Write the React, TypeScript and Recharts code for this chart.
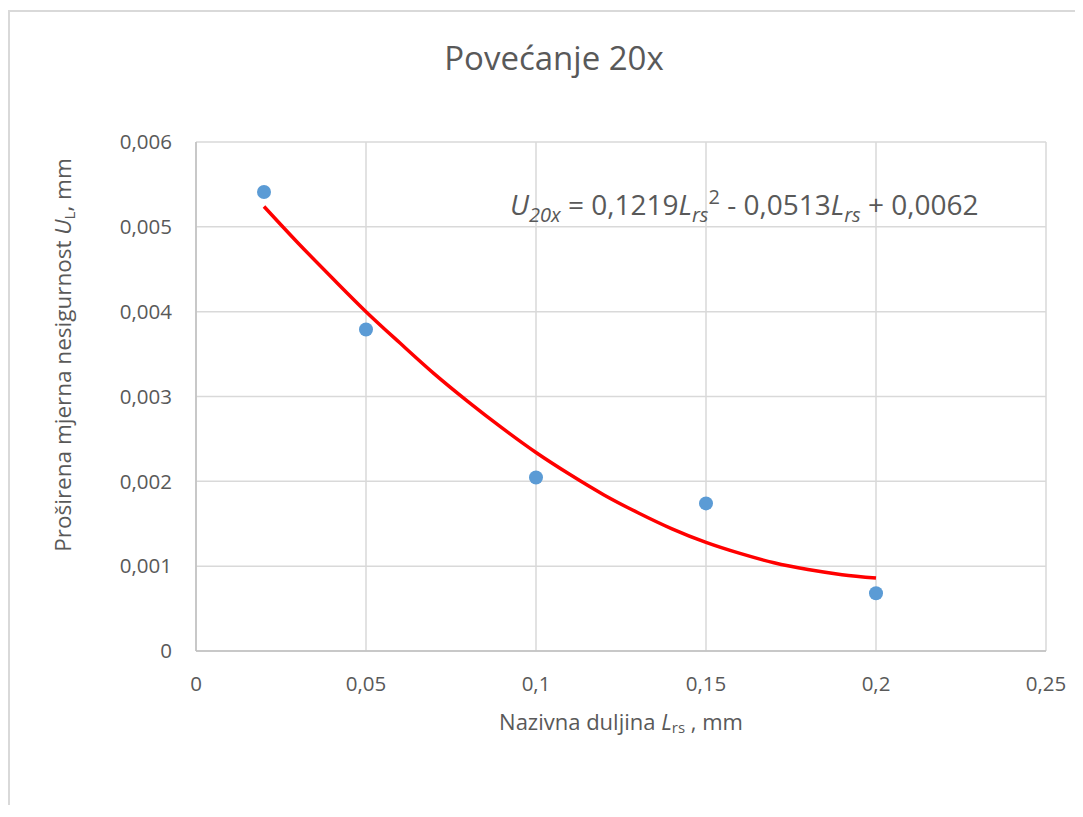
import React from 'react';
import { ComposedChart, XAxis, YAxis, CartesianGrid, Line, Scatter, Customized } from 'recharts';

const pointX = [0.02, 0.05, 0.1, 0.15, 0.2];
const pointY = [0.00541, 0.00379, 0.002045, 0.00174, 0.00068];

const trendX = [0.02, 0.03, 0.04, 0.05, 0.06, 0.07, 0.08, 0.09, 0.1, 0.11, 0.12, 0.13, 0.14, 0.15, 0.16, 0.17, 0.18, 0.19, 0.2];
const trendY = [0.00524, 0.00481, 0.0044, 0.004, 0.00363, 0.00327, 0.00294, 0.00263, 0.00234, 0.00208, 0.00184, 0.00163, 0.00144, 0.00128, 0.00115, 0.00104, 0.00096, 0.0009, 0.00086];

const xTicks = [0, 0.05, 0.1, 0.15, 0.2, 0.25];
const yTicks = [0, 0.001, 0.002, 0.003, 0.004, 0.005, 0.006];

const titleText = 'Povećanje 20x';

const points = pointX.map((x, i) => ({ x, y: pointY[i] }));
const trend = trendX.map((x, i) => ({ x, t: trendY[i] }));

const FONT = "'Open Sans', 'Noto Sans', sans-serif";
const TXT = '#595959';

const fmt = (v: number) => String(v).replace('.', ',');

const Texts = () => (
  <g fontFamily={FONT} fill={TXT}>
    <text x={544} y={58} textAnchor="middle" fontSize={33}>{titleText}</text>
    <text x={500} y={203} fontSize={28}>
      <tspan fontStyle="italic">U</tspan>
      <tspan fontStyle="italic" fontSize={20} dy={7}>20x</tspan>
      <tspan dy={-7}> = 0,1219</tspan>
      <tspan fontStyle="italic">L</tspan>
      <tspan fontStyle="italic" fontSize={20} dy={7}>rs</tspan>
      <tspan fontSize={20} dy={-18}>2</tspan>
      <tspan dy={11}> - 0,0513</tspan>
      <tspan fontStyle="italic">L</tspan>
      <tspan fontStyle="italic" fontSize={20} dy={7}>rs</tspan>
      <tspan dy={-7}> + 0,0062</tspan>
    </text>
    <text x={0} y={0} transform="translate(61, 343) rotate(-90)" textAnchor="middle" fontSize={22.5}>
      <tspan>Proširena mjerna nesigurnost </tspan>
      <tspan fontStyle="italic">U</tspan>
      <tspan fontSize={15} dy={4}>L</tspan>
      <tspan dy={-4}>, mm</tspan>
    </text>
    <text x={611} y={718} textAnchor="middle" fontSize={22}>
      <tspan>Nazivna duljina </tspan>
      <tspan fontStyle="italic">L</tspan>
      <tspan fontSize={15} dy={3}>rs</tspan>
      <tspan dy={-3}> , mm</tspan>
    </text>
  </g>
);

export default function App() {
  return (
    <div
      style={{
        position: 'relative',
        top: 2,
        width: 1075,
        height: 797,
        boxSizing: 'border-box',
        borderTop: '2px solid #d9d9d9',
        borderLeft: '2px solid #d9d9d9',
        background: '#fff',
      }}
    >
      <ComposedChart
        width={1073}
        height={795}
        margin={{ top: 130, right: 37, left: 0, bottom: 0 }}
      >
        <CartesianGrid stroke="#d9d9d9" strokeWidth={1.5} horizontal vertical />
        <XAxis
          type="number"
          dataKey="x"
          domain={[0, 0.25]}
          ticks={xTicks}
          tickFormatter={fmt}
          tickLine={false}
          tickSize={0}
          tickMargin={25}
          height={156}
          axisLine={{ stroke: '#bfbfbf', strokeWidth: 1.5 }}
          tick={{ fill: TXT, fontSize: 20.5, fontFamily: FONT }}
          allowDataOverflow
        />
        <YAxis
          type="number"
          domain={[0, 0.006]}
          ticks={yTicks}
          tickFormatter={fmt}
          tickLine={false}
          tickSize={0}
          tickMargin={24}
          width={186}
          axisLine={{ stroke: '#bfbfbf', strokeWidth: 1.5 }}
          tick={{ fill: TXT, fontSize: 20.5, fontFamily: FONT }}
          allowDataOverflow
        />
        <Line
          data={trend}
          dataKey="t"
          type="monotone"
          stroke="#ff0000"
          strokeWidth={3.5}
          dot={false}
          activeDot={false}
          isAnimationActive={false}
        />
        <Scatter
          data={points}
          dataKey="y"
          fill="#5b9bd5"
          shape={(p: any) => <circle cx={p.cx} cy={p.cy} r={7} fill="#5b9bd5" />}
          isAnimationActive={false}
        />
        <Customized component={Texts} />
      </ComposedChart>
    </div>
  );
}
